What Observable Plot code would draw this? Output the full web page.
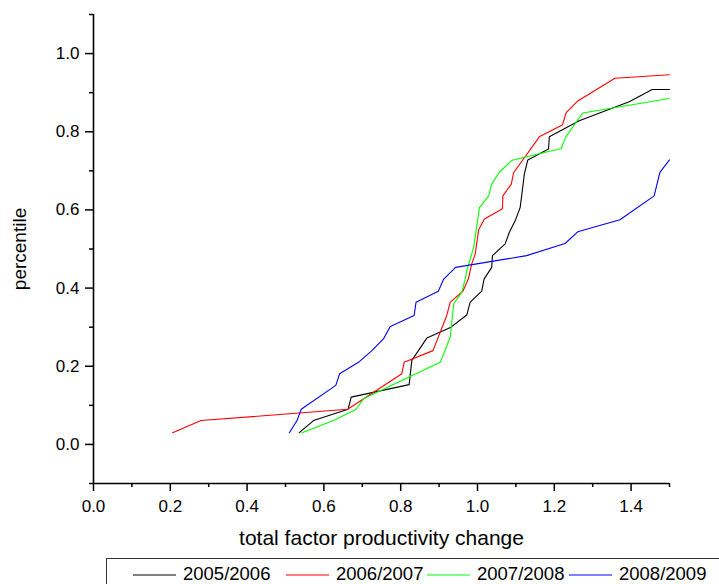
<!DOCTYPE html>
<html>
<head>
<meta charset="utf-8">
<script src="https://cdn.jsdelivr.net/npm/d3@7"></script>
<script src="https://cdn.jsdelivr.net/npm/@observablehq/plot@0.6"></script>
<style>
  html, body { margin: 0; padding: 0; background: #fff; }
  body { width: 719px; height: 584px; overflow: hidden; position: relative; font-family: "Liberation Sans", Arial, sans-serif; }
  #chart svg { display: block; }
  #legend { position: absolute; left: 0; top: 558px; display: block; }
</style>
</head>
<body>
<div id="chart"></div>
<svg id="legend" width="719" height="26"></svg>
<script>
// Cumulative distributions of total factor productivity change, one per period
const series = ["2005/2006", "2006/2007", "2007/2008", "2008/2009"];
const colors = ["#000000", "#ff0000", "#00ff00", "#0000ff"];

const tfp2005 = [
  [0.536, 0.030], [0.573, 0.061], [0.663, 0.090], [0.671, 0.121], [0.822, 0.153],
  [0.829, 0.215], [0.868, 0.272], [0.931, 0.300], [0.972, 0.331], [0.981, 0.364],
  [1.011, 0.392], [1.017, 0.423], [1.037, 0.453], [1.039, 0.483], [1.072, 0.513],
  [1.083, 0.543], [1.098, 0.572], [1.111, 0.606], [1.115, 0.636], [1.122, 0.692],
  [1.131, 0.728], [1.185, 0.756], [1.187, 0.787], [1.265, 0.828], [1.395, 0.877],
  [1.455, 0.908], [1.500, 0.908]
];
const tfp2006 = [
  [0.206, 0.030], [0.280, 0.061], [0.662, 0.090], [0.803, 0.181], [0.809, 0.210],
  [0.884, 0.240], [0.920, 0.330], [0.929, 0.364], [0.962, 0.392], [0.976, 0.423],
  [0.985, 0.462], [0.994, 0.487], [1.003, 0.549], [1.018, 0.577], [1.065, 0.603],
  [1.066, 0.636], [1.088, 0.666], [1.094, 0.695], [1.162, 0.788], [1.221, 0.817],
  [1.231, 0.849], [1.260, 0.878], [1.358, 0.937], [1.500, 0.946]
];
const tfp2007 = [
  [0.543, 0.030], [0.625, 0.061], [0.684, 0.090], [0.703, 0.117], [0.903, 0.210],
  [0.929, 0.274], [0.938, 0.360], [0.959, 0.389], [0.968, 0.423], [0.972, 0.445],
  [0.990, 0.504], [1.005, 0.606], [1.029, 0.636], [1.037, 0.666], [1.057, 0.697],
  [1.090, 0.727], [1.218, 0.757], [1.230, 0.787], [1.274, 0.848], [1.500, 0.885]
];
const tfp2008 = [
  [0.510, 0.030], [0.530, 0.061], [0.541, 0.090], [0.631, 0.151], [0.641, 0.181],
  [0.690, 0.210], [0.725, 0.240], [0.755, 0.270], [0.773, 0.302], [0.835, 0.330],
  [0.840, 0.364], [0.898, 0.392], [0.912, 0.423], [0.943, 0.453], [1.128, 0.483],
  [1.228, 0.514], [1.261, 0.544], [1.371, 0.575], [1.460, 0.636], [1.475, 0.696],
  [1.500, 0.728]
];

const xMajor = [0, 0.2, 0.4, 0.6, 0.8, 1.0, 1.2, 1.4];
const xMinor = [0.1, 0.3, 0.5, 0.7, 0.9, 1.1, 1.3, 1.5];
const yMajor = [0, 0.2, 0.4, 0.6, 0.8, 1.0];
const yMinor = [-0.1, 0.1, 0.3, 0.5, 0.7, 0.9, 1.1];

const points = [tfp2005, tfp2006, tfp2007, tfp2008].flatMap((pts, i) =>
  pts.map(([x, y]) => ({series: series[i], x, y}))
);

const fmt = d3.format(".1f");
const font = "'Liberation Sans', Arial, sans-serif";

const chart = Plot.plot({
  width: 719,
  height: 558,
  marginTop: 14,
  marginRight: 50,
  marginBottom: 75,
  marginLeft: 93,
  style: {fontFamily: font, fontSize: "17px", color: "#000", background: "#fff"},
  x: {domain: [0, 1.5], axis: null},
  y: {domain: [-0.1, 1.1], axis: null},
  color: {domain: series, range: colors},
  marks: [
    Plot.line(points, {x: "x", y: "y", z: "series", stroke: "series", strokeWidth: 1.1}),
    Plot.axisX({ticks: xMajor, tickSize: 8, tickPadding: 8, tickFormat: fmt, strokeWidth: 1.5, fontSize: 17, label: null}),
    Plot.axisX({ticks: xMinor, tickSize: 4, tickFormat: () => "", strokeWidth: 1.5, label: null}),
    Plot.axisY({ticks: yMajor, tickSize: 8, tickPadding: 6, tickFormat: fmt, strokeWidth: 1.5, fontSize: 17, label: null}),
    Plot.axisY({ticks: yMinor, tickSize: 4, tickFormat: () => "", strokeWidth: 1.5, label: null}),
    Plot.ruleX([0], {y1: -0.1, y2: 1.1, strokeWidth: 1.6}),
    Plot.ruleY([-0.1], {x1: 0, x2: 1.5, strokeWidth: 1.6}),
    Plot.text(["total factor productivity change"], {frameAnchor: "bottom", dy: 61, fontSize: 21}),
    Plot.text(["percentile"], {frameAnchor: "left", textAnchor: "middle", dx: -74, rotate: -90, fontSize: 19})
  ]
});
document.getElementById("chart").appendChild(chart);

// Legend row in a box: a short line sample followed by the period label
const legend = d3.select("#legend");
legend.append("rect")
  .attr("x", 106.5).attr("y", 0.5).attr("width", 660).attr("height", 40)
  .attr("fill", "none").attr("stroke", "#333").attr("stroke-width", 1);
const legendLeft = [133, 286, 427, 569];
series.forEach((name, i) => {
  const g = legend.append("g").attr("transform", `translate(${legendLeft[i]},0)`);
  g.append("line")
    .attr("x1", 0).attr("x2", 43).attr("y1", 17).attr("y2", 17)
    .attr("stroke", colors[i]).attr("stroke-width", 1.2);
  g.append("text")
    .attr("x", 50).attr("y", 22)
    .attr("font-family", font).attr("font-size", 18.5)
    .attr("fill", "#000")
    .text(name);
});
</script>
</body>
</html>
